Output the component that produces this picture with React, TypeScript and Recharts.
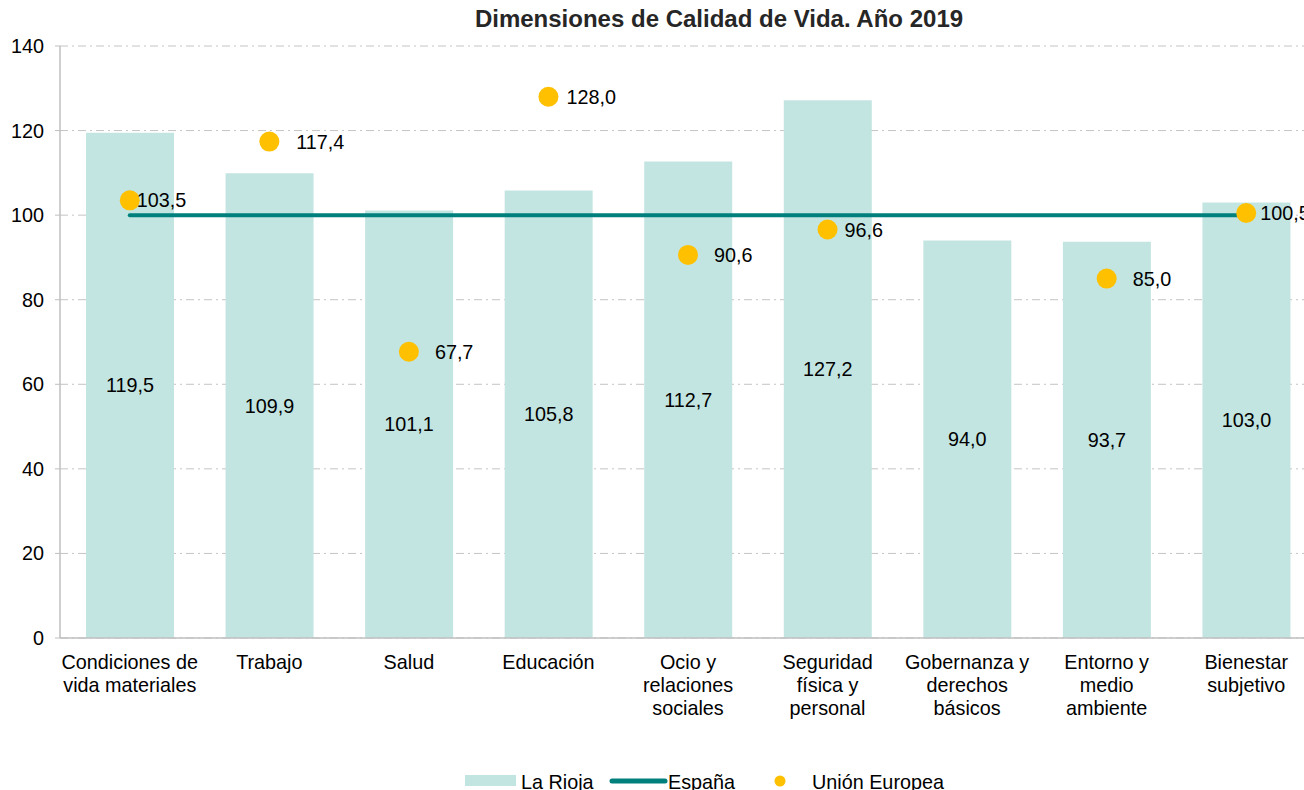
import { ComposedChart, Bar, Line, XAxis, YAxis, CartesianGrid, LabelList } from 'recharts'

const categories = [
  'Condiciones de\nvida materiales',
  'Trabajo',
  'Salud',
  'Educación',
  'Ocio y\nrelaciones\nsociales',
  'Seguridad\nfísica y\npersonal',
  'Gobernanza y\nderechos\nbásicos',
  'Entorno y\nmedio\nambiente',
  'Bienestar\nsubjetivo',
]
const laRioja = [119.5, 109.9, 101.1, 105.8, 112.7, 127.2, 94.0, 93.7, 103.0]
const espana = [100, 100, 100, 100, 100, 100, 100, 100, 100]
const unionEuropea: (number | null)[] = [103.5, 117.4, 67.7, 128.0, 90.6, 96.6, null, 85.0, 100.5]
const yTicks = [0, 20, 40, 60, 80, 100, 120, 140]

// horizontal shift of each EU label from its dot, as placed in the original
const euLabelDx = [7, 27, 26, 18, 26, 17, 0, 26, 14]

const FONT = '"Liberation Sans", Arial, sans-serif'
const FS = 19.8
const BAR = '#c3e5e1'
const TEAL = '#00807d'
const GOLD = '#ffc000'

const rows = categories.map((c, i) => ({
  name: c,
  rioja: laRioja[i],
  espana: espana[i],
  ue: unionEuropea[i],
}))

const fmt = (v: unknown) => (v == null ? '' : Number(v).toFixed(1).replace('.', ','))

function CatTick(props: any) {
  const { x, y, payload } = props
  const lines = String(payload.value).split('\n')
  return (
    <g>
      {lines.map((l, i) => (
        <text
          key={i}
          x={x}
          y={y + 22 + i * 23}
          textAnchor="middle"
          dominantBaseline="central"
          fill="#000"
          fontSize={FS}
          fontFamily={FONT}
        >
          {l}
        </text>
      ))}
    </g>
  )
}

function EuLabel(props: any) {
  const { x, y, value, index } = props
  if (value == null) return null
  return (
    <text
      x={x + euLabelDx[index]}
      y={y}
      dominantBaseline="central"
      fill="#000"
      fontSize={FS}
      fontFamily={FONT}
    >
      {fmt(value)}
    </text>
  )
}

export default function App() {
  return (
    <div style={{ position: 'absolute', left: 0, top: 0, width: 1304, height: 790, overflow: 'hidden', background: '#fff', fontFamily: FONT }}>
      <div style={{ position: 'absolute', left: 0, width: 1438, top: 5, textAlign: 'center', fontSize: 24, fontWeight: 'bold', color: '#262626' }}>
        Dimensiones de Calidad de Vida. Año 2019
      </div>
      <ComposedChart width={1320} height={790} data={rows} margin={{ top: 46, right: 4, left: 0, bottom: 0 }}>
        <CartesianGrid vertical={false} stroke="#c4c4c4" strokeDasharray="8 4 2 4" />
        <XAxis
          dataKey="name"
          height={152}
          interval={0}
          tick={<CatTick />}
          tickLine={false}
          tickSize={0}
          axisLine={{ stroke: '#bfbfbf', strokeWidth: 1.5 }}
        />
        <YAxis
          width={60}
          domain={[0, 140]}
          ticks={yTicks}
          interval={0}
          tick={{ fill: '#000', fontSize: FS, fontFamily: FONT }}
          tickSize={5}
          tickMargin={11}
          tickLine={{ stroke: '#bfbfbf' }}
          axisLine={{ stroke: '#bfbfbf', strokeWidth: 1.5 }}
        />
        <Bar dataKey="rioja" fill={BAR} barSize={88} isAnimationActive={false}>
          <LabelList dataKey="rioja" position="center" formatter={fmt} fill="#000" fontSize={FS} fontFamily={FONT} />
        </Bar>
        <Line dataKey="espana" stroke={TEAL} strokeWidth={4} strokeLinecap="round" dot={false} activeDot={false} isAnimationActive={false} />
        <Line
          dataKey="ue"
          stroke="none"
          dot={{ r: 10, fill: GOLD, stroke: 'none' }}
          activeDot={false}
          isAnimationActive={false}
        >
          <LabelList dataKey="ue" content={<EuLabel />} />
        </Line>
      </ComposedChart>
      <svg width={1304} height={790} style={{ position: 'absolute', left: 0, top: 0, pointerEvents: 'none' }}>
        <rect x={465} y={775} width={51} height={11} fill={BAR} />
        <text x={521} y={782} dominantBaseline="central" fontSize={FS} fontFamily={FONT} fill="#000">La Rioja</text>
        <line x1={612} y1={781} x2={665} y2={781} stroke={TEAL} strokeWidth={5} strokeLinecap="round" />
        <text x={668} y={782} dominantBaseline="central" fontSize={FS} fontFamily={FONT} fill="#000">España</text>
        <circle cx={780} cy={781} r={5.5} fill={GOLD} />
        <text x={812} y={782} dominantBaseline="central" fontSize={FS} fontFamily={FONT} fill="#000">Unión Europea</text>
      </svg>
    </div>
  )
}
